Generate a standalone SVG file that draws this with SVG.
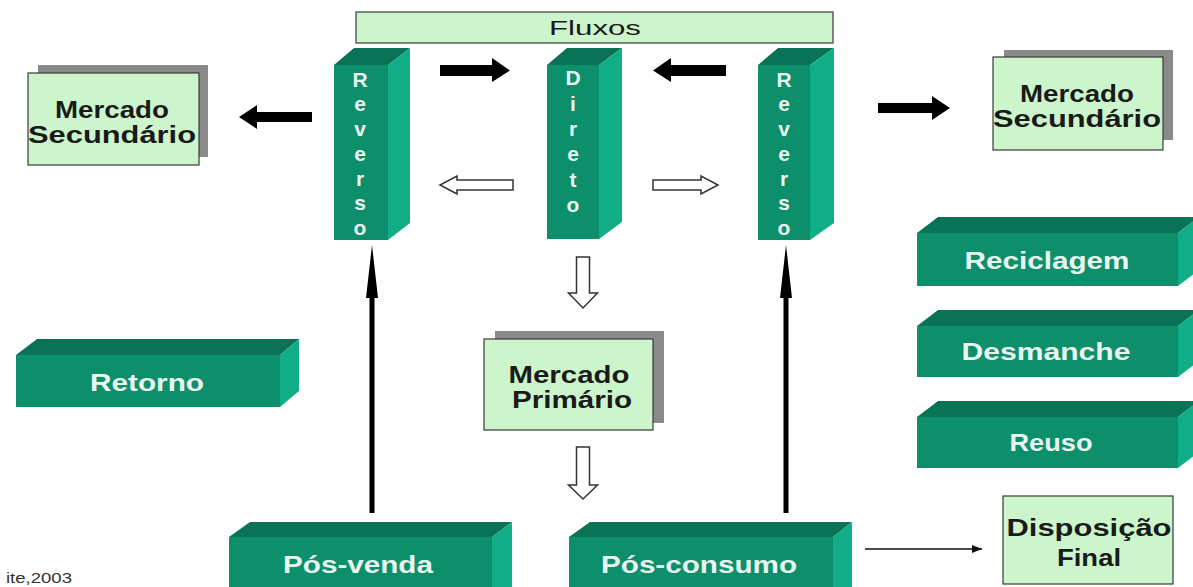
<svg xmlns="http://www.w3.org/2000/svg" width="1193" height="587" viewBox="0 0 1193 587">
<style>
.front{fill:#0e8f6c}
.top{fill:#0a7356}
.side{fill:#10ad86}
.lbl{font-family:"Liberation Sans",Arial,sans-serif;font-weight:bold;font-size:23px;fill:#e9f6ef;text-anchor:middle}
.col{font-family:"Liberation Sans",Arial,sans-serif;font-weight:bold;font-size:21px;fill:#e9f6ef;text-anchor:middle}
.box{fill:#cdf5cb;stroke:#3a3a3a;stroke-width:1.2}
.shadow{fill:#8a8a8a}
.dark{font-family:"Liberation Sans",Arial,sans-serif;font-weight:bold;font-size:23px;fill:#1a1a1a;text-anchor:middle}
.solid{fill:#000}
.hollow{fill:#fff;stroke:#333;stroke-width:1.5;stroke-linejoin:miter}
</style>
<defs>
<marker id="tri" viewBox="0 0 10 10" refX="10" refY="5" markerWidth="10" markerHeight="10" markerUnits="userSpaceOnUse" orient="auto">
<path d="M0,1 L10,5 L0,9 z" fill="#111"/>
</marker>
</defs>
<rect width="1193" height="587" fill="#fff"/>

<g id="fluxos">
<rect x="356" y="12" width="477" height="31" class="box"/>
<text x="595" y="35" font-family="Liberation Sans,Arial,sans-serif" font-size="21" fill="#1a1a1a" text-anchor="middle" textLength="92" lengthAdjust="spacingAndGlyphs">Fluxos</text>
</g>

<g id="reverso-left">
<polygon class="top" points="334,65 354,48 410,48 388,65"/>
<polygon class="side" points="388,65 410,48 410,223 388,240"/>
<rect class="front" x="334" y="65" width="54" height="175"/>
<text class="col" x="360" y="87">R</text>
<text class="col" x="360" y="111">e</text>
<text class="col" x="360" y="136">v</text>
<text class="col" x="360" y="161">e</text>
<text class="col" x="360" y="186">r</text>
<text class="col" x="360" y="210">s</text>
<text class="col" x="360" y="235">o</text>
</g>

<g id="direto">
<polygon class="top" points="547,65 567,48 622,48 599,65"/>
<polygon class="side" points="599,65 622,48 622,222 599,239"/>
<rect class="front" x="547" y="65" width="52" height="174"/>
<text class="col" x="573" y="85">D</text>
<text class="col" x="573" y="111">i</text>
<text class="col" x="573" y="136">r</text>
<text class="col" x="573" y="161">e</text>
<text class="col" x="573" y="187">t</text>
<text class="col" x="573" y="212">o</text>
</g>

<g id="reverso-right">
<polygon class="top" points="758,65 778,48 834,48 810,65"/>
<polygon class="side" points="810,65 834,48 834,223 810,240"/>
<rect class="front" x="758" y="65" width="52" height="175"/>
<text class="col" x="784" y="87">R</text>
<text class="col" x="784" y="111">e</text>
<text class="col" x="784" y="136">v</text>
<text class="col" x="784" y="161">e</text>
<text class="col" x="784" y="186">r</text>
<text class="col" x="784" y="210">s</text>
<text class="col" x="784" y="235">o</text>
</g>

<g id="mercado-secundario-left">
<rect class="shadow" x="38" y="65" width="170" height="92"/>
<rect class="box" x="28" y="73" width="171" height="92"/>
<text class="dark" x="112" y="118" textLength="114" lengthAdjust="spacingAndGlyphs">Mercado</text>
<text class="dark" x="112" y="143" textLength="168" lengthAdjust="spacingAndGlyphs">Secundário</text>
</g>

<g id="mercado-secundario-right">
<rect class="shadow" x="1004" y="50" width="169" height="90"/>
<rect class="box" x="993" y="57" width="170" height="93"/>
<text class="dark" x="1077" y="102" textLength="114" lengthAdjust="spacingAndGlyphs">Mercado</text>
<text class="dark" x="1077" y="127" textLength="168" lengthAdjust="spacingAndGlyphs">Secundário</text>
</g>

<g id="mercado-primario">
<rect class="shadow" x="495" y="331" width="169" height="92"/>
<rect class="box" x="484" y="339" width="169" height="91"/>
<text class="dark" x="569" y="383" textLength="121" lengthAdjust="spacingAndGlyphs">Mercado</text>
<text class="dark" x="572" y="408" textLength="120" lengthAdjust="spacingAndGlyphs">Primário</text>
</g>

<g id="disposicao-final">
<rect class="box" x="1003" y="496" width="170" height="88"/>
<text class="dark" x="1089" y="536" font-size="22" textLength="165" lengthAdjust="spacingAndGlyphs">Disposição</text>
<text class="dark" x="1089" y="566" font-size="22" textLength="64" lengthAdjust="spacingAndGlyphs">Final</text>
</g>

<g id="reciclagem">
<polygon class="top" points="917,233 938,217 1199,217 1178,233"/>
<polygon class="side" points="1178,233 1199,217 1199,270 1178,286"/>
<rect class="front" x="917" y="233" width="261" height="53"/>
<text class="lbl" x="1047" y="269" textLength="165" lengthAdjust="spacingAndGlyphs">Reciclagem</text>
</g>

<g id="desmanche">
<polygon class="top" points="917,326 938,310 1199,310 1178,326"/>
<polygon class="side" points="1178,326 1199,310 1199,361 1178,377"/>
<rect class="front" x="917" y="326" width="261" height="51"/>
<text class="lbl" x="1046" y="360" textLength="169" lengthAdjust="spacingAndGlyphs">Desmanche</text>
</g>

<g id="reuso">
<polygon class="top" points="917,417 938,401 1199,401 1178,417"/>
<polygon class="side" points="1178,417 1199,401 1199,452 1178,468"/>
<rect class="front" x="917" y="417" width="261" height="51"/>
<text class="lbl" x="1051" y="451" textLength="83" lengthAdjust="spacingAndGlyphs">Reuso</text>
</g>

<g id="retorno">
<polygon class="top" points="16,355 37,339 299,339 280,355"/>
<polygon class="side" points="280,355 299,339 299,391 280,407"/>
<rect class="front" x="16" y="355" width="264" height="52"/>
<text class="lbl" x="147" y="391" textLength="114" lengthAdjust="spacingAndGlyphs">Retorno</text>
</g>

<g id="pos-venda">
<polygon class="top" points="229,537 250,522 512,522 492,537"/>
<polygon class="side" points="492,537 512,522 512,587 492,600"/>
<rect class="front" x="229" y="537" width="263" height="60"/>
<text class="lbl" x="358" y="573" textLength="150" lengthAdjust="spacingAndGlyphs">Pós-venda</text>
</g>

<g id="pos-consumo">
<polygon class="top" points="569,537 590,522 852,522 833,537"/>
<polygon class="side" points="833,537 852,522 852,587 833,600"/>
<rect class="front" x="569" y="537" width="264" height="60"/>
<text class="lbl" x="699" y="573" textLength="196" lengthAdjust="spacingAndGlyphs">Pós-consumo</text>
</g>

<g id="fonte">
<text x="6" y="583" font-family="Liberation Sans,Arial,sans-serif" font-size="14" fill="#333" textLength="66" lengthAdjust="spacingAndGlyphs">ite,2003</text>
</g>

<g id="connectors">
<polygon class="solid" points="440,65 492,65 492,58 510,70.5 492,82 492,76 440,76"/>
<polygon class="solid" points="726,65 671,65 671,58 653,70.5 671,82 671,76 726,76"/>
<polygon class="solid" points="312,112 257,112 257,105 239,117 257,129 257,122 312,122"/>
<polygon class="solid" points="878,103 932,103 932,96 950,108 932,120 932,113 878,113"/>
<polygon class="hollow" points="513,180 457,180 457,176 440,185 457,194 457,190 513,190"/>
<polygon class="hollow" points="653,180 701,180 701,176 718,185 701,194 701,190 653,190"/>
<polygon class="hollow" points="576.5,257 589.5,257 589.5,293 597.5,293 583,308 568.5,293 576.5,293"/>
<polygon class="hollow" points="576.5,447 589.5,447 589.5,485 597.5,485 583,499 568.5,485 576.5,485"/>
<rect class="solid" x="369.5" y="290" width="5" height="223"/>
<polygon class="solid" points="372,245 378,298 366,298"/>
<rect class="solid" x="783.5" y="290" width="5" height="223"/>
<polygon class="solid" points="786,245 792,298 780,298"/>
<line x1="865" y1="549" x2="982" y2="549" stroke="#111" stroke-width="1.5" marker-end="url(#tri)"/>
</g>
</svg>
